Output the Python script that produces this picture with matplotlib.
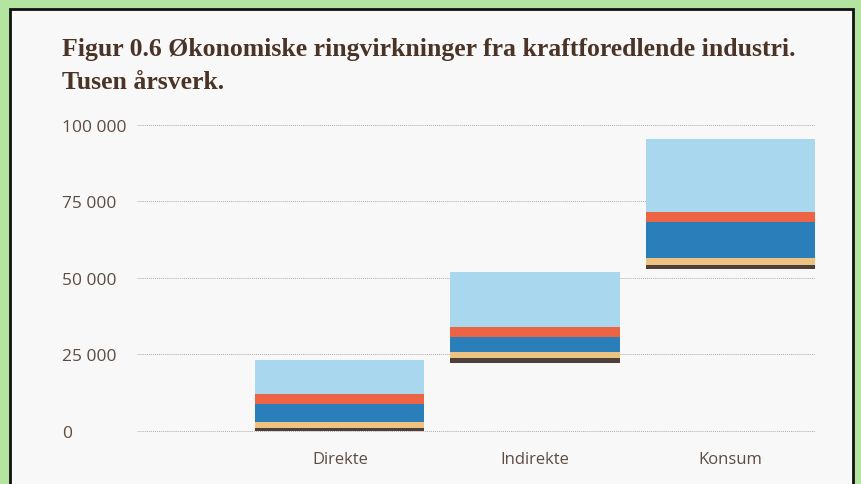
import numpy as np
import matplotlib.pyplot as plt
from matplotlib.patches import Rectangle

# Data (årsverk)
categories = ["Direkte", "Indirekte", "Konsum"]
start = [0, 22300, 52800]
seg_dark = [1000, 1600, 1500]
seg_tan = [1800, 2000, 2300]
seg_blue = [6000, 4700, 11600]
seg_orange = [3300, 3400, 3400]
seg_light = [10900, 17900, 23900]
yticks = [0, 25000, 50000, 75000, 100000]
ytick_labels = ["0", "25 000", "50 000", "75 000", "100 000"]

segments = [seg_dark, seg_tan, seg_blue, seg_orange, seg_light]
colors = ["#4d4039", "#eec381", "#2a7fba", "#ec6443", "#a8d7ee"]

text_col = "#5e4c42"
title_col = "#4a3427"

fig = plt.figure(figsize=(8.61, 4.85), dpi=100, facecolor="#b3e5a0")

# panel with dark frame, drawn behind the axes
panel = Rectangle((10 / 861, -0.05), 843 / 861, 1.05 - 10 / 485,
                  transform=fig.transFigure, facecolor="#f8f8f8",
                  edgecolor="#111111", linewidth=2, zorder=-1)
fig.add_artist(panel)

ax = fig.add_axes([137 / 861, 0.0973, 678 / 861, 0.6555])
ax.set_facecolor("none")
ax.set_zorder(1)

x = np.arange(len(categories))
bottom = np.array(start, dtype=float)
for vals, col in zip(segments, colors):
    ax.bar(x, vals, bottom=bottom, width=0.867, color=col, zorder=3)
    bottom = bottom + np.array(vals)

ax.set_xlim(-1.04, 2.435)
ax.set_ylim(-2000, 102000)
for y in yticks:
    ax.axhline(y, color="#b3aca8", linestyle=(0, (1, 1)), linewidth=0.7, zorder=1)

ax.set_yticks(yticks)
ax.set_yticklabels(ytick_labels, fontsize=12.5, color=text_col, family="Open Sans")
for lbl in ax.get_yticklabels():
    lbl.set_horizontalalignment("left")
ax.tick_params(axis="y", length=0, pad=54)

ax.set_xticks(x)
ax.set_xticklabels(categories, fontsize=12, color=text_col, family="Open Sans")
ax.tick_params(axis="x", length=0, pad=10)

for s in ax.spines.values():
    s.set_visible(False)

fig.text(62 / 861, 1 - 38 / 485,
         "Figur 0.6 Økonomiske ringvirkninger fra kraftforedlende industri.\nTusen årsverk.",
         fontsize=18.5, fontweight="bold", family="Liberation Serif", color=title_col,
         ha="left", va="top", linespacing=1.55)

fig.savefig("out.png", dpi=100, facecolor=fig.get_facecolor())
